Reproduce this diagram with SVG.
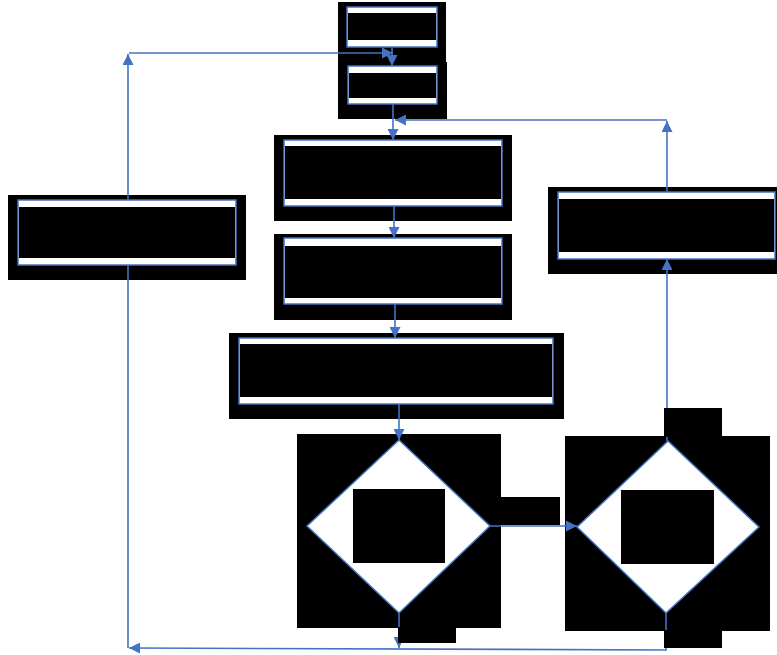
<svg xmlns="http://www.w3.org/2000/svg" width="777" height="655" viewBox="0 0 777 655">
  <defs>
    <style>
      .mask { fill: #000; }
      .box { fill: #fff; stroke: #4472C4; stroke-width: 1.5; }
      .dia { fill: #fff; stroke: #4472C4; stroke-width: 1.5; }
      .link { fill: none; stroke: #4472C4; stroke-width: 1.6; }
    </style>
    <marker id="arrow" viewBox="0 0 10 10" refX="10" refY="5" markerWidth="11" markerHeight="11" markerUnits="userSpaceOnUse" orient="auto">
      <path d="M0,0 L10,5 L0,10 Z" fill="#4472C4"/>
    </marker>
  </defs>
  <rect width="777" height="655" fill="#fff"/>

  <!-- process boxes -->
  <g id="box-start">
    <rect class="mask" x="338" y="2" width="108" height="60"/>
    <rect class="box" x="347" y="7" width="90" height="40"/>
    <rect class="mask" x="348" y="13" width="88" height="27"/>
  </g>
  <g id="box-second">
    <rect class="mask" x="338" y="62" width="109" height="57"/>
    <rect class="box" x="348" y="66" width="89" height="38"/>
    <rect class="mask" x="349" y="73" width="87" height="25"/>
  </g>
  <g id="box-third">
    <rect class="mask" x="274" y="135" width="238" height="86"/>
    <rect class="box" x="284" y="140" width="218" height="66"/>
    <rect class="mask" x="285" y="146" width="216" height="53"/>
  </g>
  <g id="box-fourth">
    <rect class="mask" x="274" y="234" width="238" height="86"/>
    <rect class="box" x="284" y="238" width="218" height="66"/>
    <rect class="mask" x="285" y="246" width="216" height="52"/>
  </g>
  <g id="box-fifth">
    <rect class="mask" x="229" y="333" width="335" height="86"/>
    <rect class="box" x="239" y="338" width="314" height="66"/>
    <rect class="mask" x="240" y="344" width="312" height="53"/>
  </g>
  <g id="box-left">
    <rect class="mask" x="8" y="195" width="238" height="85"/>
    <rect class="box" x="18" y="200" width="218" height="65"/>
    <rect class="mask" x="19" y="207" width="216" height="51"/>
  </g>
  <g id="box-right">
    <rect class="mask" x="548" y="187" width="229" height="87"/>
    <rect class="box" x="558" y="192" width="217" height="67"/>
    <rect class="mask" x="559" y="199" width="215" height="53"/>
  </g>

  <!-- decisions -->
  <g id="decision-left">
    <rect class="mask" x="297" y="434" width="204" height="194"/>
    <rect class="mask" x="500" y="497" width="60" height="28"/>
    <polygon class="dia" points="399,440 490,526 399,613 307,526"/>
    <rect class="mask" x="353" y="489" width="92" height="74"/>
  </g>
  <g id="decision-right">
    <rect class="mask" x="565" y="436" width="205" height="195"/>
    <polygon class="dia" points="668,441 759,527 666,613 577,527"/>
    <rect class="mask" x="621" y="490" width="93" height="74"/>
  </g>

  <!-- connectors -->
  <g id="connectors">
    <path class="link" d="M128,200 V54" marker-end="url(#arrow)"/>
    <path class="link" d="M129,53 H393" marker-end="url(#arrow)"/>
    <path class="link" d="M392,47 V66" marker-end="url(#arrow)"/>
    <path class="link" d="M393,104 V140" marker-end="url(#arrow)"/>
    <path class="link" d="M667,192 V121" marker-end="url(#arrow)"/>
    <path class="link" d="M667,120 H395" marker-end="url(#arrow)"/>
    <path class="link" d="M394,206 V238" marker-end="url(#arrow)"/>
    <path class="link" d="M395,304 V338" marker-end="url(#arrow)"/>
    <path class="link" d="M399,404 V440" marker-end="url(#arrow)"/>
    <path class="link" d="M490,526 H577" marker-end="url(#arrow)"/>
    <path class="link" d="M667,441 V259" marker-end="url(#arrow)"/>
    <path class="link" d="M399,613 V648" marker-end="url(#arrow)"/>
    <path class="link" d="M128,265 V648"/>
    <path class="link" d="M666,613 V650 L129,648" marker-end="url(#arrow)"/>
  </g>

  <!-- tabs of the decision shapes, lying over the connectors -->
  <g id="decision-tabs">
    <rect class="mask" x="398" y="627" width="58" height="16"/>
    <rect class="mask" x="664" y="408" width="58" height="29"/>
    <rect class="mask" x="664" y="630" width="58" height="18"/>
  </g>
</svg>
